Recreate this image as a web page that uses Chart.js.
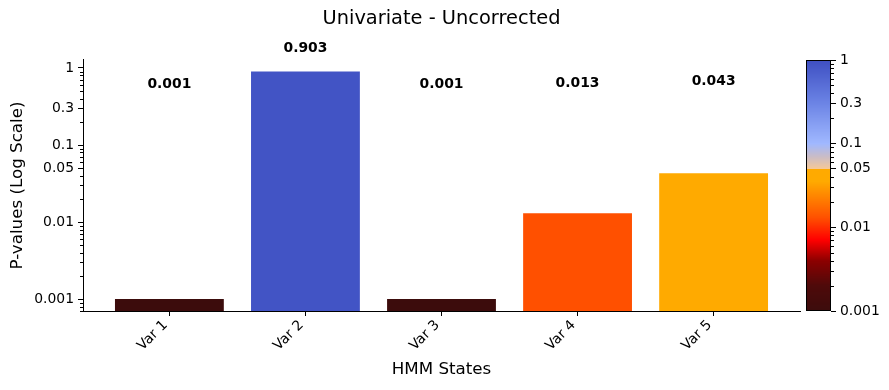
<!DOCTYPE html>
<html><head><meta charset="utf-8">
<script src="https://cdn.jsdelivr.net/npm/chart.js@4.4.0/dist/chart.umd.min.js"></script>
<style>
html,body{margin:0;padding:0;background:#fff;}
#wrap{position:relative;width:889px;height:390px;overflow:hidden;}
canvas{position:absolute;top:0;}
</style>
</head><body>
<div id="wrap">
<canvas id="main" width="889" height="390" style="left:0;width:889px;height:390px"></canvas>
<canvas id="cb" width="99" height="390" style="left:790px;width:99px;height:390px"></canvas>
</div>
<script>
// ---------- data ----------
const categories = ['Var 1', 'Var 2', 'Var 3', 'Var 4', 'Var 5'];
const pValues = [0.001, 0.903, 0.001, 0.013, 0.043];
const valueLabels = ['0.001', '0.903', '0.001', '0.013', '0.043'];
const yTickValues = [0.001, 0.01, 0.05, 0.1, 0.3, 1];
const yTickLabels = ['0.001', '0.01', '0.05', '0.1', '0.3', '1'];
const cbTickValues = [0.001, 0.01, 0.05, 0.1, 0.3, 1];
const cbTickLabels = ['0.001', '0.01', '0.05', '0.1', '0.3', '1'];
const chartTitle = 'Univariate - Uncorrected';
const xTitle = 'HMM States';
const yTitle = 'P-values (Log Scale)';

// ---------- colormap (log10 p -> rgb) ----------
const cmapStops = [
  [-3.0,    [60, 12, 12]],
  [-2.7,    [78, 10, 10]],
  [-2.4,    [140, 0, 0]],
  [-2.15,   [255, 0, 0]],
  [-1.886,  [255, 80, 0]],
  [-1.45,   [255, 170, 0]],
  [-1.30103,[255, 170, 0]],
  [-1.30102,[245, 200, 152]],
  [-1.15,   [200, 188, 200]],
  [-1.0,    [160, 184, 255]],
  [-0.5,    [106, 130, 228]],
  [0.0,     [62, 79, 194]]
];
function cmap(v) {
  let l = Math.log10(v);
  if (l <= cmapStops[0][0]) l = cmapStops[0][0];
  if (l >= cmapStops[cmapStops.length - 1][0]) l = cmapStops[cmapStops.length - 1][0];
  for (let i = 0; i < cmapStops.length - 1; i++) {
    const a = cmapStops[i], b = cmapStops[i + 1];
    if (l >= a[0] && l <= b[0]) {
      const t = (b[0] - a[0]) === 0 ? 0 : (l - a[0]) / (b[0] - a[0]);
      const c = a[1].map((x, k) => Math.round(x + (b[1][k] - x) * t));
      return 'rgb(' + c.join(',') + ')';
    }
  }
  return 'rgb(62,79,194)';
}

const FONT = "'DejaVu Sans', 'Liberation Sans', sans-serif";
const TICK_SIZE = 13.9, LABEL_SIZE = 16.7, TITLE_SIZE = 19.4;

// ---------- plugins ----------
const minorTicks = {
  id: 'minorTicks',
  afterDraw(chart, args, opts) {
    const s = chart.scales[opts.axis];
    const ctx = chart.ctx;
    ctx.save();
    ctx.strokeStyle = '#000';
    ctx.lineWidth = 1;
    ctx.beginPath();
    for (let d = -4; d <= 0; d++) {
      for (let m = 1; m <= 9; m++) {
        const v = m * Math.pow(10, d);
        if (v < s.min || v > s.max) continue;
        if (opts.majors.some(mv => Math.abs(mv - v) / mv < 1e-6)) continue;
        const y = Math.round(s.getPixelForValue(v)) + 0.5;
        if (opts.side === 'left') {
          ctx.moveTo(s.right, y); ctx.lineTo(s.right - 3, y);
        } else {
          ctx.moveTo(s.left, y); ctx.lineTo(s.left + 3, y);
        }
      }
    }
    ctx.stroke();
    ctx.restore();
  }
};

const valueLabelPlugin = {
  id: 'valueLabels',
  afterDatasetsDraw(chart) {
    const ctx = chart.ctx, xs = chart.scales.x, ys = chart.scales.y;
    ctx.save();
    ctx.font = 'bold ' + TICK_SIZE + 'px ' + FONT;
    ctx.fillStyle = '#000';
    ctx.textAlign = 'center';
    ctx.textBaseline = 'middle';
    pValues.forEach((v, i) => {
      const pos = Math.max(v * 2, 0.62 + v);
      ctx.fillText(valueLabels[i], xs.getPixelForValue(i), ys.getPixelForValue(pos));
    });
    ctx.restore();
  }
};

const colorbarFill = {
  id: 'colorbarFill',
  beforeDraw(chart) {
    const ctx = chart.ctx, a = chart.chartArea, s = chart.scales.y;
    ctx.save();
    for (let y = Math.floor(a.top); y < Math.ceil(a.bottom); y++) {
      const v = s.getValueForPixel(y + 0.5);
      ctx.fillStyle = cmap(v);
      ctx.fillRect(a.left, y, a.right - a.left, 1);
    }
    ctx.restore();
  },
  afterDraw(chart) {
    const ctx = chart.ctx, a = chart.chartArea;
    ctx.save();
    ctx.strokeStyle = '#000';
    ctx.lineWidth = 1;
    ctx.strokeRect(Math.round(a.left) + 0.5, Math.round(a.top) + 0.5,
      Math.round(a.right - a.left) - 1, Math.round(a.bottom - a.top) - 1);
    ctx.restore();
  }
};

// ---------- main chart ----------
new Chart(document.getElementById('main'), {
  type: 'bar',
  data: {
    datasets: [{
      data: pValues.map((v, i) => ({ x: i, y: v })),
      backgroundColor: pValues.map(cmap),
      borderWidth: 0,
      barPercentage: 0.8,
      categoryPercentage: 1.0
    }]
  },
  options: {
    responsive: false,
    animation: false,
    devicePixelRatio: 1,
    layout: { padding: { left: 0, right: 89, top: 0, bottom: 0 } },
    plugins: {
      legend: { display: false },
      tooltip: { enabled: false },
      title: {
        display: true, text: chartTitle, fullSize: false, color: '#000',
        font: { family: FONT, size: TITLE_SIZE, weight: 'normal' },
        padding: { top: 7.4, bottom: 29.3 }
      },
      minorTicks: { axis: 'y', side: 'left', majors: yTickValues }
    },
    scales: {
      x: {
        type: 'linear', min: -0.635, max: 4.635, offset: false,
        afterBuildTicks: ax => { ax.ticks = categories.map((c, i) => ({ value: i })); },
        ticks: {
          callback: (v, i) => categories[i], autoSkip: false,
          minRotation: 45, maxRotation: 45, padding: 1, labelOffset: -4,
          color: '#000', font: { family: FONT, size: TICK_SIZE }
        },
        grid: { offset: false, drawOnChartArea: false, drawTicks: true, tickLength: 5, tickColor: '#000', color: '#000' },
        border: { display: true, color: '#000', width: 1 },
        title: { display: true, text: xTitle, color: '#000', font: { family: FONT, size: LABEL_SIZE }, padding: { top: 0, bottom: 10 } },
        afterFit: ax => { ax.height = 79; }
      },
      y: {
        type: 'logarithmic', min: 0.0007, max: 1.27,
        afterBuildTicks: ax => { ax.ticks = yTickValues.map(v => ({ value: v })); },
        ticks: {
          callback: (v, i) => yTickLabels[i], autoSkip: false, padding: 4,
          color: '#000', font: { family: FONT, size: TICK_SIZE }
        },
        grid: { drawOnChartArea: false, drawTicks: true, tickLength: 5, tickColor: '#000', color: '#000' },
        border: { display: true, color: '#000', width: 1 },
        title: { display: true, text: yTitle, color: '#000', font: { family: FONT, size: LABEL_SIZE }, padding: { top: 8, bottom: 0 } },
        afterFit: ax => { ax.width = 83; }
      }
    }
  },
  plugins: [minorTicks, valueLabelPlugin]
});

// ---------- colorbar ----------
new Chart(document.getElementById('cb'), {
  type: 'scatter',
  data: { datasets: [] },
  options: {
    responsive: false,
    animation: false,
    devicePixelRatio: 1,
    layout: { padding: { left: 16, right: 0, top: 60, bottom: 79 } },
    plugins: {
      legend: { display: false },
      tooltip: { enabled: false },
      title: { display: false },
      minorTicks: { axis: 'y', side: 'right', majors: cbTickValues }
    },
    scales: {
      x: { display: false, min: 0, max: 1 },
      y: {
        type: 'logarithmic', position: 'right', min: 0.001, max: 1,
        afterBuildTicks: ax => { ax.ticks = cbTickValues.map(v => ({ value: v })); },
        ticks: {
          callback: (v, i) => cbTickLabels[i], autoSkip: false, padding: 4,
          color: '#000', font: { family: FONT, size: TICK_SIZE }
        },
        grid: { drawOnChartArea: false, drawTicks: true, tickLength: 5, tickColor: '#000', color: '#000' },
        border: { display: false },
        afterFit: ax => { ax.width = 58; }
      }
    }
  },
  plugins: [colorbarFill, minorTicks]
});
</script>
</body></html>
